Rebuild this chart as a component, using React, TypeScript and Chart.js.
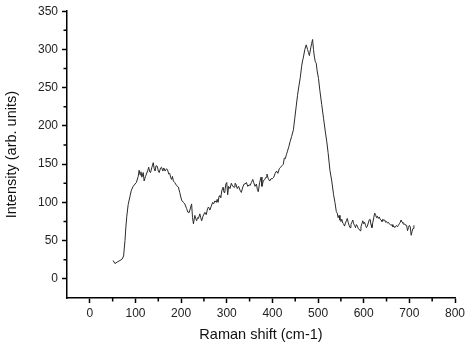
import React, { useEffect, useRef } from "react";
import { Chart, registerables } from "chart.js";

Chart.register(...registerables);

const ramanShift = [
  51, 55, 60, 66, 71, 74, 77, 79, 81, 84, 88, 91, 95, 99, 102, 106, 108, 110, 112, 114,
  117, 119, 122, 124, 127, 129, 131, 133, 136, 139, 141, 143, 145, 148, 150, 152, 155, 157, 160, 162,
  165, 168, 170, 173, 175, 177, 179, 181, 183, 186, 190, 194, 197, 201, 205, 208, 212, 215, 218, 221,
  223, 225, 227, 230, 232, 234, 236, 238, 241, 243, 245, 248, 252, 255, 258, 260, 263, 266, 269, 271,
  274, 277, 279, 281, 283, 285, 287, 289, 292, 294, 296, 298, 300, 302, 304, 307, 310, 313, 316, 318,
  320, 323, 326, 329, 332, 335, 338, 340, 343, 346, 349, 351, 354, 357, 359, 362, 365, 367, 369, 372,
  375, 377, 380, 383, 386, 388, 391, 394, 397, 400, 403, 406, 409, 412, 415, 418, 421, 424, 426, 428,
  431, 433, 436, 439, 442, 446, 449, 452, 455, 458, 461, 464, 466, 468, 471, 474, 477, 479, 481, 484,
  486, 488, 490, 492, 494, 496, 498, 501, 504, 508, 512, 516, 519, 522, 526, 530, 534, 537, 540, 542,
  544, 546, 548, 550, 552, 554, 556, 558, 560, 562, 564, 566, 568, 570, 572, 574, 576, 578, 580, 582,
  584, 586, 588, 590, 592, 594, 596, 598, 600, 602, 604, 606, 608, 610, 612, 614, 616, 618, 620, 622,
  624, 626, 628, 630, 632, 634, 636, 638, 640, 642, 644, 646, 648, 650, 652, 654, 656, 658, 660, 662,
  664, 666, 668, 670, 672, 674, 676, 678, 680, 682, 684, 686, 688, 690, 692, 694, 696, 698, 700, 702,
  704, 706, 708, 710,
];

const intensity = [
  24, 20, 22, 24, 26, 30, 50, 68, 82, 97, 108, 116, 121, 124, 126, 134, 142, 136, 140, 133,
  139, 128, 134, 137, 142, 146, 140, 139, 146, 152, 144, 141, 148, 147, 141, 139, 145, 146, 141, 145,
  141, 144, 143, 137, 138, 133, 130, 134, 128, 126, 122, 120, 113, 103, 100, 98, 92, 87, 87, 94,
  98, 80, 72, 83, 79, 76, 80, 79, 85, 80, 76, 82, 87, 84, 92, 94, 90, 95, 100, 98,
  102, 100, 104, 100, 108, 109, 106, 115, 120, 113, 116, 124, 126, 110, 121, 118, 125, 121, 120, 125,
  124, 118, 121, 116, 113, 120, 124, 124, 126, 121, 123, 122, 126, 130, 126, 121, 124, 117, 114, 126,
  133, 121, 128, 130, 133, 137, 131, 128, 131, 131, 133, 138, 141, 138, 144, 146, 148, 150, 158, 157,
  163, 167, 173, 180, 186, 195, 210, 225, 240, 252, 263, 278, 285, 290, 300, 306, 300, 296, 292, 302,
  308, 313, 300, 290, 284, 282, 272, 262, 246, 228, 210, 192, 180, 165, 142, 128, 110, 100, 88, 86,
  80, 83, 77, 75, 78, 73, 72, 69, 73, 76, 79, 74, 70, 67, 71, 74, 77, 72, 70, 67,
  71, 69, 66, 65, 63, 68, 72, 76, 72, 74, 70, 67, 69, 73, 77, 78, 71, 67, 74, 80,
  86, 84, 80, 82, 79, 81, 78, 77, 75, 78, 76, 77, 74, 75, 73, 74, 72, 71, 70, 71,
  68, 69, 67, 69, 70, 68, 70, 72, 74, 77, 74, 73, 71, 72, 70, 70, 63, 67, 70, 68,
  57, 62, 66, 70,
];

const xMajorTicks = [0, 100, 200, 300, 400, 500, 600, 700, 800];
const xMinorTicks = [50, 150, 250, 350, 450, 550, 650, 750];
const yMajorTicks = [0, 50, 100, 150, 200, 250, 300, 350];
const yMinorTicks = [25, 75, 125, 175, 225, 275, 325];

const FONT = "'Liberation Sans', Arial, sans-serif";

const minorTicksPlugin = {
  id: "minorTicks",
  afterDraw(chart: any) {
    const ctx = chart.ctx;
    const xs = chart.scales.x;
    const ys = chart.scales.y;
    ctx.save();
    ctx.strokeStyle = "#000";
    ctx.lineWidth = 1.5;
    ctx.beginPath();
    for (const v of xMinorTicks) {
      const px = xs.getPixelForValue(v);
      ctx.moveTo(px, ys.bottom);
      ctx.lineTo(px, ys.bottom + 3.5);
    }
    for (const v of yMinorTicks) {
      const py = ys.getPixelForValue(v);
      ctx.moveTo(xs.left, py);
      ctx.lineTo(xs.left - 3.5, py);
    }
    ctx.stroke();
    ctx.restore();
  },
};

export default function App() {
  const ref = useRef<HTMLCanvasElement | null>(null);
  useEffect(() => {
    if (!ref.current) return;
    const chart = new Chart(ref.current, {
      type: "line",
      data: {
        datasets: [
          {
            data: ramanShift.map((x, i) => ({ x, y: intensity[i] })),
            borderColor: "#2a2a2a",
            borderWidth: 1,
            pointRadius: 0,
            tension: 0,
            fill: false,
          },
        ],
      },
      options: {
        animation: false,
        responsive: false,
        layout: { padding: { left: 0, right: 18, top: 10, bottom: 0 } },
        plugins: { legend: { display: false }, tooltip: { enabled: false } },
        scales: {
          x: {
            type: "linear",
            min: -50,
            max: 800,
            afterBuildTicks: (s: any) => {
              s.ticks = xMajorTicks.map((v) => ({ value: v }));
            },
            afterFit: (s: any) => {
              s.height = 46;
            },
            grid: { display: true, drawOnChartArea: false, drawTicks: true, tickLength: 5, color: "#000", tickWidth: 1.5 },
            border: { display: true, color: "#000", width: 1.5 },
            ticks: { color: "#222", font: { family: FONT, size: 12 }, padding: 3, maxRotation: 0 },
            title: {
              display: true,
              text: "Raman shift (cm-1)",
              color: "#111",
              font: { family: FONT, size: 14.5 },
              padding: { top: 0, bottom: 0 },
            },
          },
          y: {
            type: "linear",
            min: -25,
            max: 350,
            afterBuildTicks: (s: any) => {
              s.ticks = yMajorTicks.map((v) => ({ value: v }));
            },
            afterFit: (s: any) => {
              s.width = 67;
            },
            grid: { display: true, drawOnChartArea: false, drawTicks: true, tickLength: 5, color: "#000", tickWidth: 1.5 },
            border: { display: true, color: "#000", width: 1.5 },
            ticks: { color: "#222", font: { family: FONT, size: 12 }, padding: 4 },
            title: {
              display: true,
              text: "Intensity (arb. units)",
              color: "#111",
              font: { family: FONT, size: 14.5 },
              padding: { top: 3, bottom: 0 },
            },
          },
        },
      },
      plugins: [minorTicksPlugin],
    } as any);
    return () => chart.destroy();
  }, []);
  return (
    <div style={{ position: "fixed", left: 0, top: 0, width: 473, height: 344, background: "#fff" }}>
      <canvas ref={ref} width={473} height={344} style={{ display: "block" }} />
    </div>
  );
}
